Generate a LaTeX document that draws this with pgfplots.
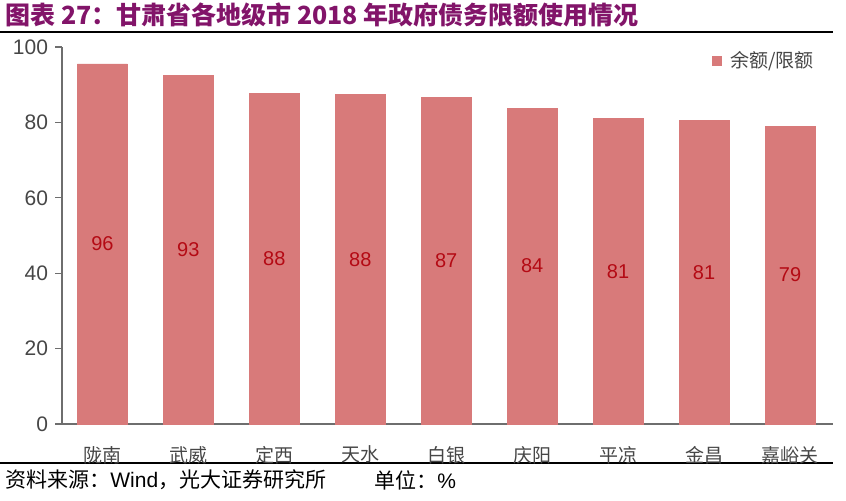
\documentclass[border=0pt]{standalone}
\usepackage{fontspec}
\setmainfont{Liberation Sans}
\newfontfamily\cjk{Noto Sans CJK SC}
\usepackage{pgfplots}
\pgfplotsset{compat=1.18}
\definecolor{barc}{RGB}{216,122,122}
\definecolor{labc}{RGB}{180,10,20}
\definecolor{titc}{RGB}{130,20,105}
\definecolor{axc}{RGB}{110,110,110}
\definecolor{txc}{RGB}{70,70,70}
\begin{document}
\begin{tikzpicture}
\path[use as bounding box] (0pt,0pt) rectangle (423pt,250pt);
\node[anchor=west,text=titc,font=\cjk\bfseries\fontsize{12.5}{14}\selectfont,inner sep=0] at (2.5pt,242.5pt) {图表 27：甘肃省各地级市 2018 年政府债务限额使用情况};
\draw[line width=0.8pt] (0pt,234pt) -- (416.5pt,234pt);
\draw[line width=0.8pt] (0pt,18.5pt) -- (416.5pt,18.5pt);
\node[anchor=west,font=\cjk\fontsize{10.5}{12}\selectfont,inner sep=0] at (2.5pt,10pt) {资料来源：\fontspec{Liberation Sans}Wind\cjk，光大证券研究所};
\node[anchor=west,font=\cjk\fontsize{10.5}{12}\selectfont,inner sep=0] at (187pt,10pt) {单位：\fontspec{Liberation Sans}\%};
\begin{axis}[
  at={(31pt,38pt)}, anchor=south west,
  scale only axis, width=385.5pt, height=188.5pt,
  xmin=-0.47, xmax=8.5, ymin=0, ymax=100,
  ybar, bar width=25pt,
  axis x line*=bottom, axis y line*=left,
  axis line style={axc, line width=0.6pt},
  ytick={0,20,...,100},
  yticklabel style={font=\fontsize{10.5}{12}\selectfont, text=txc},
  /pgf/number format/assume math mode=true,
  tick style={axc, line width=0.6pt},
  tick align=outside, major tick length=3.5pt,
  xtick={0,...,8},
  xticklabels={陇南,武威,定西,天水,白银,庆阳,平凉,金昌,嘉峪关},
  xticklabel style={font=\cjk\fontsize{9.5}{11}\selectfont, text=txc, yshift=-4pt},
  extra x ticks={-0.5,0.5,...,7.5},
  extra x tick labels={},
  extra x tick style={xtick style={axc}, major tick length=5pt},
  major x tick style={draw=none},
  clip=false,
]
\addplot[fill=barc, draw=barc] coordinates {(0,95.5) (1,92.5) (2,87.6) (3,87.4) (4,86.6) (5,83.8) (6,81) (7,80.5) (8,79)};
\foreach \x/\v/\l in {0/95.5/96,1/92.5/93,2/87.6/88,3/87.4/88,4/86.6/87,5/83.8/84,6/81/81,7/80.5/81,8/79/79}{
  \edef\tmp{\noexpand\node[text=labc,font=\noexpand\fontsize{10}{12}\noexpand\selectfont] at (axis cs:\x,\v/2) {\l};}
  \tmp
}
\end{axis}
\fill[barc] (356pt,217pt) rectangle (361pt,222pt);
\node[anchor=west,font=\cjk\fontsize{9.5}{11}\selectfont,text=txc,inner sep=0] at (365pt,219.5pt) {余额/限额};
\end{tikzpicture}
\end{document}
